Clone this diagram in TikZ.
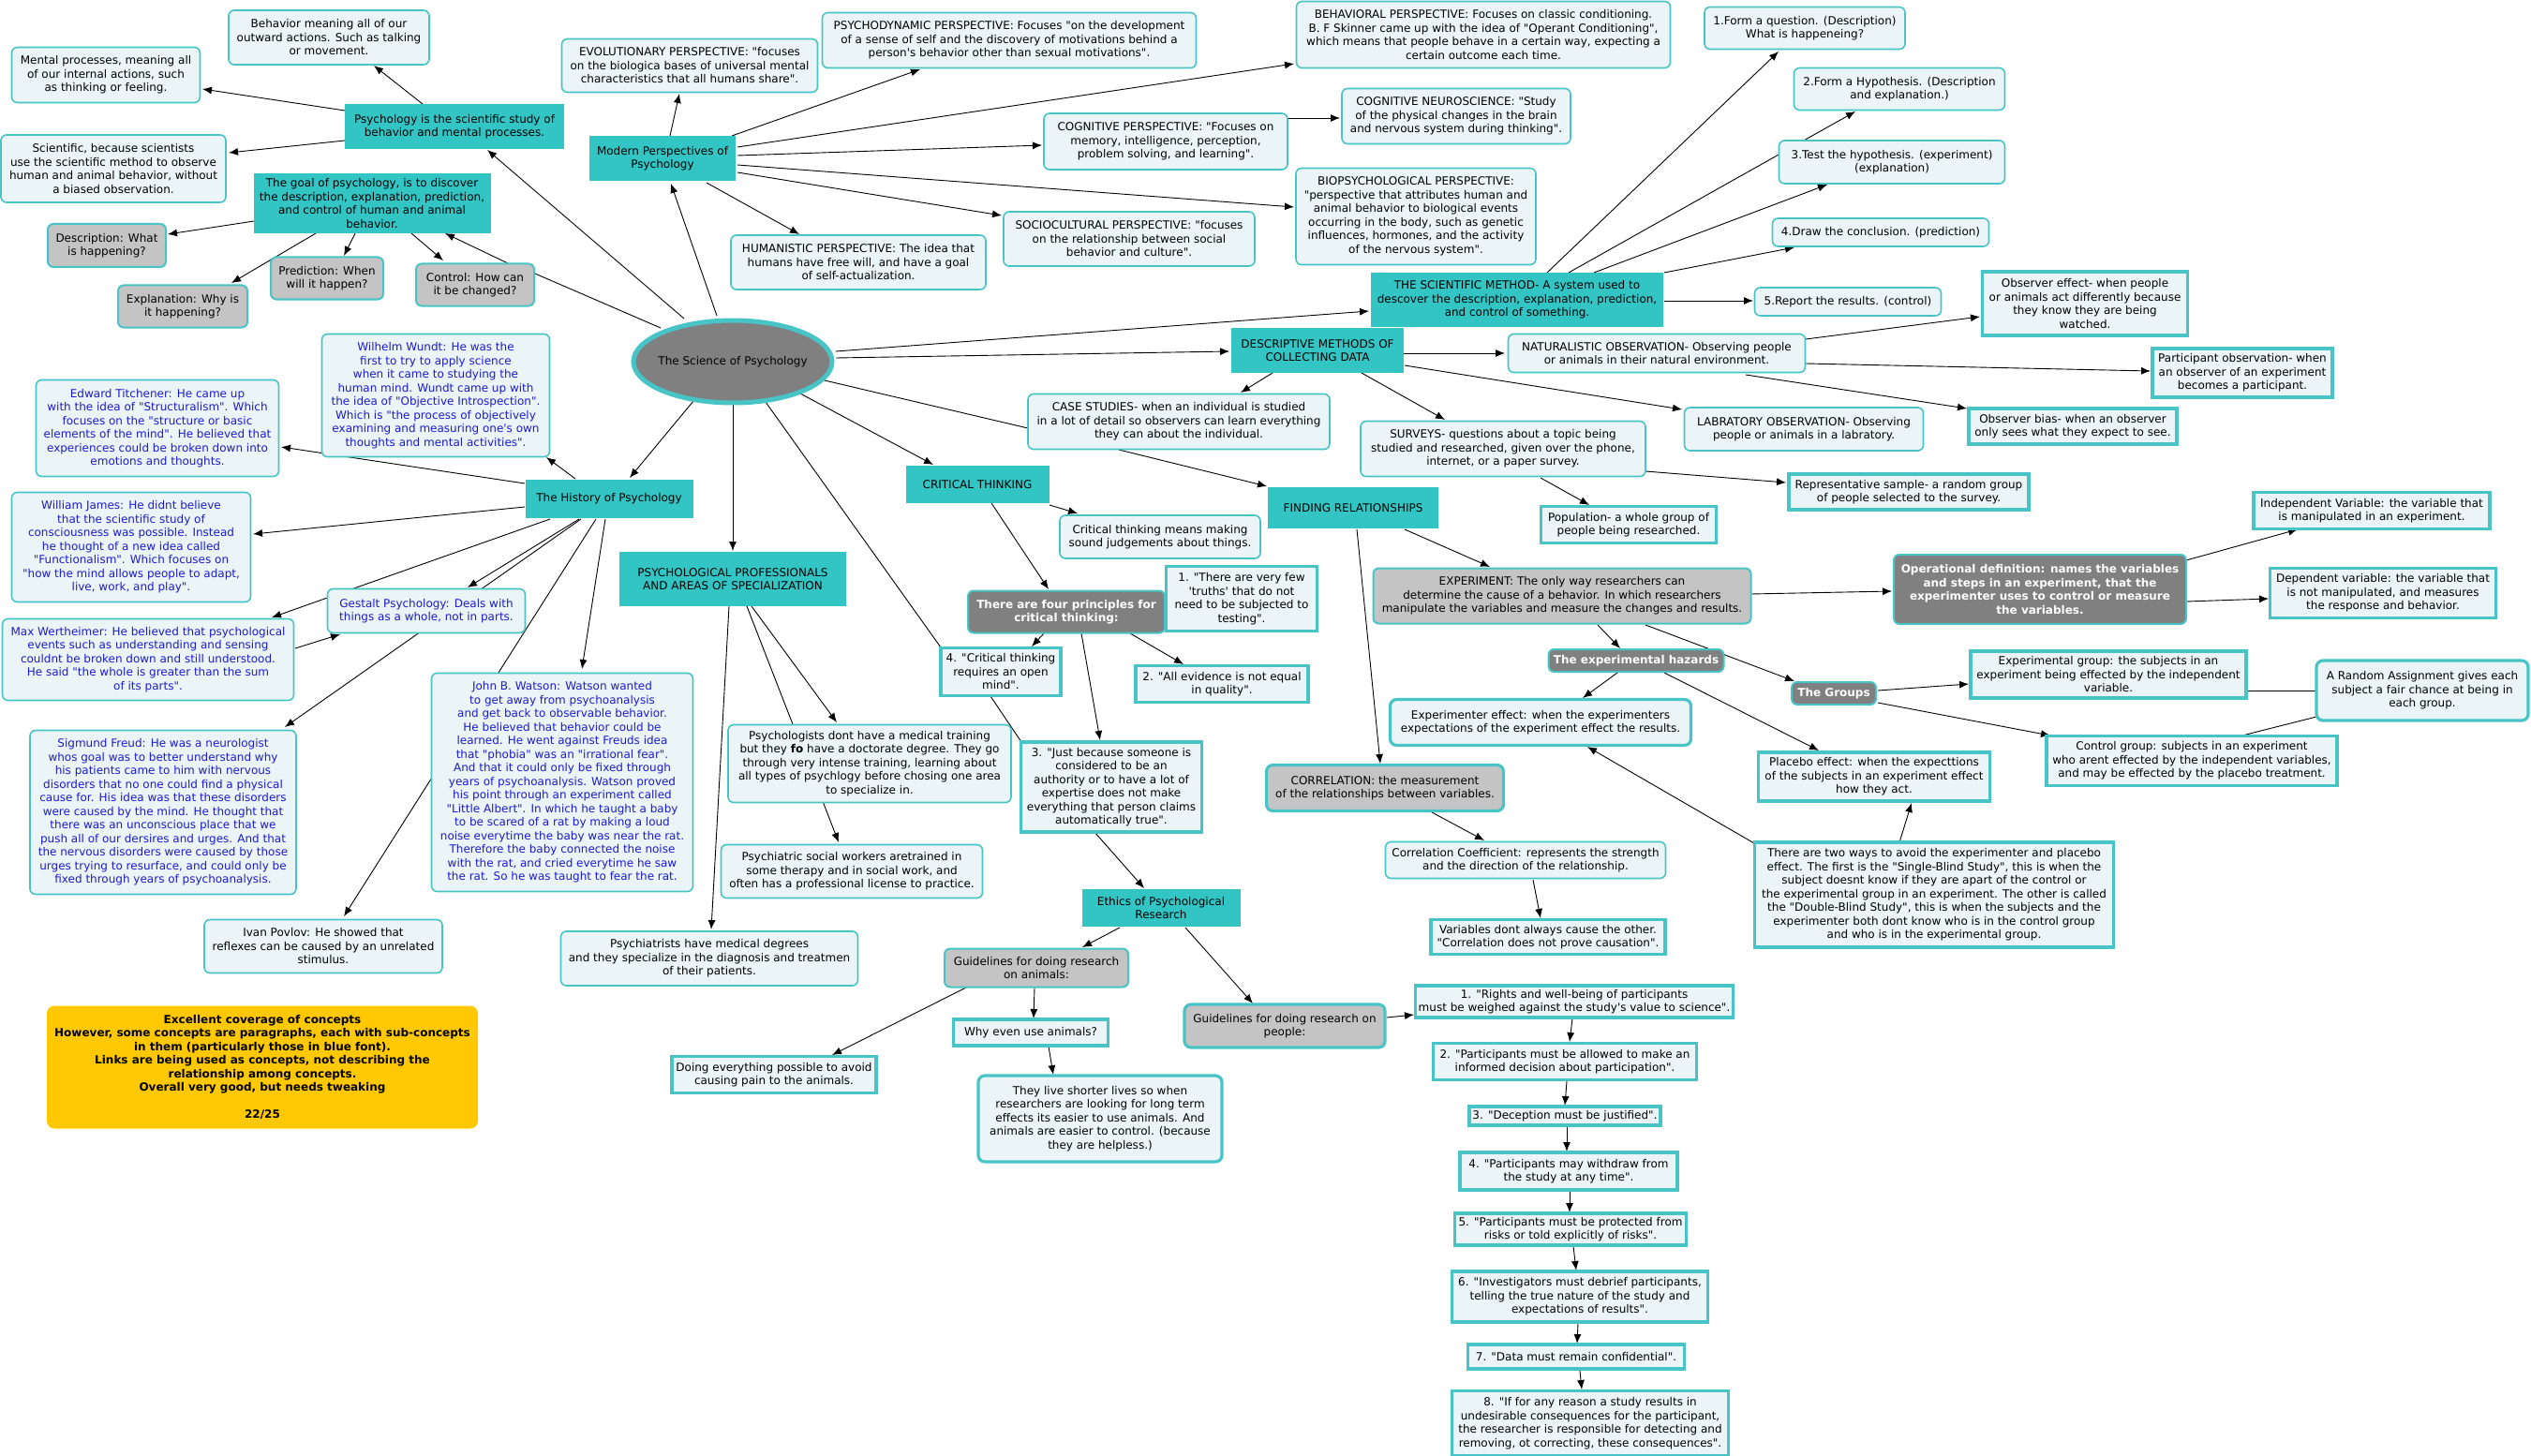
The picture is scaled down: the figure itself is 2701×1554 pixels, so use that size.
\documentclass[tikz,border=0pt]{standalone}
\usepackage{fontspec}
\newfontfamily\vf{DejaVu Sans}
\usetikzlibrary{shapes.geometric,arrows.meta,calc,backgrounds}
\definecolor{tealc}{RGB}{51,196,196}
\definecolor{tealb}{RGB}{72,196,198}
\definecolor{boxf}{RGB}{235,244,246}
\definecolor{grayf}{RGB}{196,196,196}
\definecolor{darkf}{RGB}{128,128,128}
\definecolor{bluet}{RGB}{28,28,205}
\definecolor{yell}{RGB}{255,200,0}
\newcommand\bx[6]{\node[#1,minimum width=#4pt,minimum height=#5pt] (#2) at (#3) {#6};}
\newcommand\ed[5]{\draw[#1] ($(#2)+(#3)$) -- ($(#4)+(#5)$);}
\tikzset{
 base/.style={font=\vf\fontsize{12}{14.5}\selectfont, align=center, inner sep=2pt, text=black},
 rb/.style={base, rounded corners=6pt, draw=tealb, line width=1.6pt, fill=boxf},
 sb/.style={base, draw=tealb, line width=3.2pt, fill=boxf},
 tb/.style={base, rounded corners=7pt, draw=tealb, line width=3.2pt, fill=boxf},
 tc/.style={base, fill=tealc},
 gr/.style={base, rounded corners=6pt, draw=tealb, line width=2pt, fill=grayf},
 gt/.style={base, rounded corners=7pt, draw=tealb, line width=3.2pt, fill=grayf},
 dk/.style={base, rounded corners=6pt, draw=tealb, line width=2pt, fill=darkf, text=white, font=\vf\bfseries\fontsize{12}{14.5}\selectfont},
 bl/.style={text=bluet},
 arr/.style={-{Latex[length=10pt,width=8pt]}, line width=0.9pt},
 ln/.style={line width=0.9pt},
}
\begin{document}
\begin{tikzpicture}[x=1pt,y=-1pt]
\useasboundingbox (0,0) rectangle (2701,1554);
% ---------- left top
\bx{rb}{beh}{351,40}{214}{58}{Behavior meaning all of our\\outward actions. Such as talking\\or movement.}
\bx{rb}{mental}{113,80}{201}{59}{Mental processes, meaning all\\of our internal actions, such\\as thinking or feeling.}
\bx{tc}{psy}{485,135}{234}{48}{Psychology is the scientific study of\\behavior and mental processes.}
\bx{rb}{sci}{121,180}{240}{72}{Scientific, because scientists\\use the scientific method to observe\\human and animal behavior, without\\a biased observation.}
\bx{tc}{goal}{397,217}{253}{64}{The goal of psychology, is to discover\\the description, explanation, prediction,\\and control of human and animal\\behavior.}
\bx{gr}{desc}{114,262}{126}{46}{Description: What\\is happening?}
\bx{gr}{pred}{349,297}{120}{45}{Prediction: When\\will it happen?}
\bx{gr}{ctl}{507,304}{126}{45}{Control: How can\\it be changed?}
\bx{gr}{expl}{195,327}{138}{45}{Explanation: Why is\\it happening?}
\node[base, ellipse, draw=tealb, line width=5pt, fill=darkf, minimum width=212pt, minimum height=88pt, inner sep=0pt, label={[base]center:The Science of Psychology}] (root) at (782,386) {};
% ---------- history
\bx{rb,bl}{wundt}{465,422}{243}{131}{Wilhelm Wundt: He was the\\first to try to apply science\\when it came to studying the\\human mind. Wundt came up with\\the idea of "Objective Introspection".\\Which is "the process of objectively\\examining and measuring one's own\\thoughts and mental activities".}
\bx{rb,bl}{titch}{168,457}{259}{103}{Edward Titchener: He came up\\with the idea of "Structuralism". Which\\focuses on the "structure or basic\\elements of the mind". He believed that\\experiences could be broken down into\\emotions and thoughts.}
\bx{tc}{hist}{650,532}{179}{41}{The History of Psychology}
\bx{rb,bl}{james}{140,584}{255}{117}{William James: He didnt believe\\that the scientific study of\\consciousness was possible. Instead\\he thought of a new idea called\\"Functionalism". Which focuses on\\"how the mind allows people to adapt,\\live, work, and play".}
\bx{rb,bl}{gestalt}{455,652}{211}{47}{Gestalt Psychology: Deals with\\things as a whole, not in parts.}
\bx{rb,bl}{max}{158,704}{311}{87}{Max Wertheimer: He believed that psychological\\events such as understanding and sensing\\couldnt be broken down and still understood.\\He said "the whole is greater than the sum\\of its parts".}
\bx{rb,bl}{freud}{174,867}{284}{175}{Sigmund Freud: He was a neurologist\\whos goal was to better understand why\\his patients came to him with nervous\\disorders that no one could find a physical\\cause for. His idea was that these disorders\\were caused by the mind. He thought that\\there was an unconscious place that we\\push all of our dersires and urges. And that\\the nervous disorders were caused by those\\urges trying to resurface, and could only be\\fixed through years of psychoanalysis.}
\bx{rb,bl}{watson}{600,835}{279}{233}{John B. Watson: Watson wanted\\to get away from psychoanalysis\\and get back to observable behavior.\\He believed that behavior could be\\learned. He went against Freuds idea\\that "phobia" was an "irrational fear".\\And that it could only be fixed through\\years of psychoanalysis. Watson proved\\his point through an experiment called\\"Little Albert". In which he taught a baby\\to be scared of a rat by making a loud\\noise everytime the baby was near the rat.\\Therefore the baby connected the noise\\with the rat, and cried everytime he saw\\the rat. So he was taught to fear the rat.}
\bx{rb}{ivan}{345,1010}{254}{57}{Ivan Povlov: He showed that\\reflexes can be caused by an unrelated\\stimulus.}
\node[base, fill=yell, rounded corners=8pt, minimum width=460pt, minimum height=131pt, font=\vf\bfseries\fontsize{12}{14.5}\selectfont] (note) at (280,1139) {Excellent coverage of concepts\\However, some concepts are paragraphs, each with sub-concepts\\in them (particularly those in blue font).\\Links are being used as concepts, not describing the\\relationship among concepts.\\Overall very good, but needs tweaking\\[14.5pt]22/25};
% ---------- professionals
\bx{tc}{prof}{782,618}{242}{58}{PSYCHOLOGICAL PROFESSIONALS\\AND AREAS OF SPECIALIZATION}
\bx{rb}{psychologists}{928,815}{302}{83}{Psychologists dont have a medical training\\but they {\bfseries fo} have a doctorate degree. They go\\through very intense training, learning about\\all types of psychlogy before chosing one area\\to specialize in.}
\bx{rb}{social}{909,930}{279}{57}{Psychiatric social workers aretrained in\\some therapy and in social work, and\\often has a professional license to practice.}
\bx{rb}{psychiatrists}{757,1023}{317}{58}{Psychiatrists have medical degrees\\and they specialize in the diagnosis and treatmen\\of their patients.}
% ---------- modern perspectives
\bx{rb}{evo}{736,70}{273}{57}{EVOLUTIONARY PERSPECTIVE: "focuses\\on the biologica bases of universal mental\\characteristics that all humans share".}
\bx{rb}{psychodyn}{1077,43}{399}{59}{PSYCHODYNAMIC PERSPECTIVE: Focuses "on the development\\of a sense of self and the discovery of motivations behind a\\person's behavior other than sexual motivations".}
\bx{tc}{modern}{707,169}{156}{48}{Modern Perspectives of\\Psychology}
\bx{rb}{cog}{1244,151}{260}{60}{COGNITIVE PERSPECTIVE: "Focuses on\\memory, intelligence, perception,\\problem solving, and learning".}
\bx{rb}{hum}{916,280}{272}{58}{HUMANISTIC PERSPECTIVE: The idea that\\humans have free will, and have a goal\\of self-actualization.}
\bx{rb}{socio}{1205,255}{268}{58}{SOCIOCULTURAL PERSPECTIVE: "focuses\\on the relationship between social\\behavior and culture".}
\bx{rb}{behav}{1583,37}{399}{71}{BEHAVIORAL PERSPECTIVE: Focuses on classic conditioning.\\B. F Skinner came up with the idea of "Operant Conditioning",\\which means that people behave in a certain way, expecting a\\certain outcome each time.}
\bx{rb}{cogneuro}{1554,124}{244}{59}{COGNITIVE NEUROSCIENCE: "Study\\of the physical changes in the brain\\and nervous system during thinking".}
\bx{rb}{bio}{1511,231}{256}{103}{BIOPSYCHOLOGICAL PERSPECTIVE:\\"perspective that attributes human and\\animal behavior to biological events\\occurring in the body, such as genetic\\influences, hormones, and the activity\\of the nervous system".}
% ---------- scientific method
\bx{rb}{s1}{1926,30}{214}{45}{1.Form a question. (Description)\\What is happeneing?}
\bx{rb}{s2}{2027,95}{225}{45}{2.Form a Hypothesis. (Description\\and explanation.)}
\bx{rb}{s3}{2019,173}{241}{46}{3.Test the hypothesis. (experiment)\\(explanation)}
\bx{rb}{s4}{2007,248}{231}{30}{4.Draw the conclusion. (prediction)}
\bx{tc}{sm}{1619,320}{312}{58}{THE SCIENTIFIC METHOD- A system used to\\descover the description, explanation, prediction,\\and control of something.}
\bx{rb}{s5}{1972,322}{199}{30}{5.Report the results. (control)}
% ---------- descriptive methods
\bx{tc}{descm}{1406,374}{184}{48}{DESCRIPTIVE METHODS OF\\COLLECTING DATA}
\bx{rb}{case}{1258,450}{322}{59}{CASE STUDIES- when an individual is studied\\in a lot of detail so observers can learn everything\\they can about the individual.}
\bx{rb}{nat}{1768,377}{317}{41}{NATURALISTIC OBSERVATION- Observing people\\or animals in their natural environment.}
\bx{rb}{lab}{1925,458}{255}{46}{LABRATORY OBSERVATION- Observing\\people or animals in a labratory.}
\bx{rb}{surv}{1604,479}{304}{59}{SURVEYS- questions about a topic being\\studied and researched, given over the phone,\\internet, or a paper survey.}
\bx{sb}{obseff}{2225,324}{219}{68}{Observer effect- when people\\or animals act differently because\\they know they are being\\watched.}
\bx{sb}{partobs}{2393,398}{192}{52}{Participant observation- when\\an observer of an experiment\\becomes a participant.}
\bx{sb}{obsbias}{2212,455}{222}{38}{Observer bias- when an observer\\only sees what they expect to see.}
\bx{sb}{rep}{2037,525}{256}{38}{Representative sample- a random group\\of people selected to the survey.}
\bx{sb}{pop}{1738,560}{187}{39}{Population- a whole group of\\people being researched.}
% ---------- finding relationships
\bx{tc}{find}{1444,542}{182}{44}{FINDING RELATIONSHIPS}
\bx{gr}{exp}{1667,636}{403}{59}{EXPERIMENT: The only way researchers can\\determine the cause of a behavior. In which researchers\\manipulate the variables and measure the changes and results.}
\bx{dk}{opdef}{2177,629}{312}{74}{Operational definition: names the variables\\and steps in an experiment, that the\\experimenter uses to control or measure\\the variables.}
\bx{sb}{indep}{2531,545}{252}{39}{Independent Variable: the variable that\\is manipulated in an experiment.}
\bx{sb}{dep}{2543,633}{241}{53}{Dependent variable: the variable that\\is not manipulated, and measures\\the response and behavior.}
\bx{dk}{haz}{1746,705}{187}{24}{The experimental hazards}
\bx{dk}{groups}{1957,740}{90}{24}{The Groups}
\bx{sb}{expgrp}{2250,720}{294}{50}{Experimental group: the subjects in an\\experiment being effected by the independent\\variable.}
\bx{tb}{rand}{2585,737}{226}{64}{A Random Assignment gives each\\subject a fair chance at being in\\each group.}
\bx{sb}{ctlgrp}{2339,812}{310}{53}{Control group: subjects in an experiment\\who arent effected by the independent variables,\\and may be effected by the placebo treatment.}
\bx{sb}{placebo}{2000,829}{247}{52}{Placebo effect: when the expecttions\\of the subjects in an experiment effect\\how they act.}
\bx{tb}{expeff}{1644,771}{321}{49}{Experimenter effect: when the experimenters\\expectations of the experiment effect the results.}
\bx{gt}{corr}{1478,841}{253}{49}{CORRELATION: the measurement\\of the relationships between variables.}
\bx{rb}{coef}{1628,918}{299}{39}{Correlation Coefficient: represents the strength\\and the direction of the relationship.}
\bx{sb}{vars}{1652,1000}{250}{37}{Variables dont always cause the other.\\"Correlation does not prove causation".}
\bx{sb}{twoways}{2064,955}{383}{112}{There are two ways to avoid the experimenter and placebo\\effect. The first is the "Single-Blind Study", this is when the\\subject doesnt know if they are apart of the control or\\the experimental group in an experiment. The other is called\\the "Double-Blind Study", this is when the subjects and the\\experimenter both dont know who is in the control group\\and who is in the experimental group.}
% ---------- critical thinking
\bx{tc}{crit}{1043,517}{153}{40}{CRITICAL THINKING}
\bx{rb}{ctmeans}{1238,573}{214}{46}{Critical thinking means making\\sound judgements about things.}
\bx{dk}{four}{1138,653}{210}{45}{There are four principles for\\critical thinking:}
\bx{sb}{p1}{1325,639}{161}{69}{1. "There are very few\\'truths' that do not\\need to be subjected to\\testing".}
\bx{sb}{p4}{1068,717}{128}{51}{4. "Critical thinking\\requires an open\\mind".}
\bx{sb}{p2}{1304,730}{184}{39}{2. "All evidence is not equal\\in quality".}
\bx{sb}{p3}{1186,840}{193}{96}{3. "Just because someone is\\considered to be an\\authority or to have a lot of\\expertise does not make\\everything that person claims\\automatically true".}
% ---------- ethics
\bx{tc}{ethics}{1239,969}{169}{40}{Ethics of Psychological\\Research}
\bx{gr}{ganim}{1106,1033}{196}{41}{Guidelines for doing research\\on animals:}
\bx{sb}{doing}{826,1147}{218}{39}{Doing everything possible to avoid\\causing pain to the animals.}
\bx{sb}{why}{1100,1102}{165}{28}{Why even use animals?}
\bx{tb}{live}{1174,1194}{260}{92}{They live shorter lives so when\\researchers are looking for long term\\effects its easier to use animals. And\\animals are easier to control. (because\\they are helpless.)}
\bx{gt}{gpeople}{1371,1095}{214}{46}{Guidelines for doing research on\\people:}
\bx{sb}{e1}{1680,1069}{339}{34}{1. "Rights and well-being of participants\\must be weighed against the study's value to science".}
\bx{sb}{e2}{1670,1133}{281}{39}{2. "Participants must be allowed to make an\\informed decision about participation".}
\bx{sb}{e3}{1670,1191}{204}{20}{3. "Deception must be justified".}
\bx{sb}{e4}{1674,1250}{232}{40}{4. "Participants may withdraw from\\the study at any time".}
\bx{sb}{e5}{1676,1312}{247}{34}{5. "Participants must be protected from\\risks or told explicitly of risks".}
\bx{sb}{e6}{1686,1384}{273}{54}{6. "Investigators must debrief participants,\\telling the true nature of the study and\\expectations of results".}
\bx{sb}{e7}{1682,1448}{231}{26}{7. "Data must remain confidential".}
\bx{sb}{e8}{1697,1519}{295}{69}{8. "If for any reason a study results in\\undesirable consequences for the participant,\\the researcher is responsible for detecting and\\removing, ot correcting, these consequences".}
% ================= connectors
\begin{scope}[on background layer]
\fill[white] (0,0) rectangle (2701,1554);
\ed{arr}{root}{-52,-46}{psy}{35,25}
\ed{ln}{root}{-77,-36}{ctl}{64,-12}
\ed{arr}{ctl}{35,-23}{goal}{78,32}
\ed{arr}{goal}{-126,19}{desc}{65,-12}
\ed{arr}{goal}{-60,32}{expl}{52,-25}
\ed{arr}{goal}{-18,32}{pred}{18,-24}
\ed{arr}{goal}{42,32}{ctl}{-34,-26}
\ed{arr}{psy}{-34,-24}{beh}{48,30}
\ed{arr}{psy}{-117,-17}{mental}{103,15}
\ed{arr}{psy}{-117,15}{sci}{123,-17}
\ed{arr}{root}{-17,-49}{modern}{9,27}
\ed{arr}{modern}{8,-24}{evo}{-11,30}
\ed{arr}{modern}{74,-24}{psychodyn}{-95,31}
\ed{arr}{modern}{80,-12}{behav}{-202,31}
\ed{arr}{modern}{80,-3}{cog}{-132,4}
\ed{arr}{modern}{80,7}{bio}{-130,-10}
\ed{arr}{modern}{80,15}{socio}{-136,-25}
\ed{arr}{modern}{47,26}{hum}{-63,-30}
\ed{arr}{cog}{130,-25}{cogneuro}{-124,2}
\ed{arr}{root}{-42,42}{hist}{22,-22}
\ed{arr}{root}{0,45}{prof}{0,-30}
\ed{ln}{root}{35,43}{p4}{-64,-26}
\ed{ln}{p4}{-11,26}{p3}{-96,-48}
\ed{arr}{p3}{-18,48}{ethics}{-18,-21}
\ed{arr}{root}{72,34}{crit}{-47,-21}
\ed{ln}{root}{98,20}{case}{-161,7}
\ed{arr}{case}{-64,30}{find}{-92,-23}
\ed{arr}{root}{110,-4}{descm}{-94,1}
\ed{arr}{root}{110,-11}{sm}{-158,12}
\ed{arr}{hist}{-36,-21}{wundt}{118,66}
\ed{arr}{hist}{-90,-16}{titch}{132,20}
\ed{arr}{hist}{-90,9}{james}{130,-14}
\ed{arr}{hist}{-63,22}{max}{132,-45}
\ed{arr}{hist}{-32,22}{gestalt}{44,-25}
\ed{arr}{hist}{-30,22}{freud}{130,-91}
\ed{arr}{hist}{-14,22}{ivan}{22,-32}
\ed{arr}{hist}{-4,22}{watson}{21,-121}
\ed{arr}{max}{157,-12}{gestalt}{-92,25}
\ed{arr}{prof}{-4,29}{psychiatrists}{2,-31}
\ed{arr}{prof}{20,29}{psychologists}{-35,-44}
\ed{arr}{prof}{15,29}{social}{-14,-31}
\ed{arr}{crit}{77,22}{ctmeans}{-88,-25}
\ed{arr}{crit}{15,20}{four}{-19,-24}
\ed{arr}{four}{-24,23}{p4}{33,-27}
\ed{arr}{four}{68,23}{p2}{-41,-21}
\ed{arr}{four}{16,23}{p3}{-12,-50}
\ed{arr}{descm}{-48,24}{case}{66,-31}
\ed{arr}{descm}{92,3}{nat}{-162,0}
\ed{arr}{descm}{93,16}{lab}{-130,-21}
\ed{arr}{descm}{47,24}{surv}{-62,-31}
\ed{arr}{nat}{159,-15}{obseff}{-112,14}
\ed{arr}{nat}{159,11}{partobs}{-98,-2}
\ed{arr}{nat}{95,23}{obsbias}{-113,-19}
\ed{arr}{surv}{152,24}{rep}{-131,-10}
\ed{arr}{surv}{40,31}{pop}{-42,-21}
\ed{arr}{find}{55,23}{exp}{-77,-31}
\ed{arr}{find}{4,23}{corr}{-5,-26}
\ed{arr}{exp}{201,-2}{opdef}{-158,2}
\ed{arr}{opdef}{156,-31}{indep}{-79,20}
\ed{arr}{opdef}{156,13}{dep}{-122,6}
\ed{arr}{exp}{38,31}{haz}{-17,-13}
\ed{arr}{exp}{89,31}{groups}{-42,-13}
\ed{arr}{haz}{-20,13}{expeff}{45,-26}
\ed{arr}{haz}{30,13}{placebo}{-59,-28}
\ed{arr}{groups}{47,-3}{expgrp}{-149,10}
\ed{arr}{groups}{47,10}{ctlgrp}{-151,-27}
\ed{ln}{expgrp}{147,17}{rand}{-113,0}
\ed{ln}{rand}{-113,28}{ctlgrp}{50,-26}
\ed{arr}{twoways}{-37,-56}{placebo}{40,28}
\ed{arr}{twoways}{-192,-55}{expeff}{50,26}
\ed{arr}{corr}{50,26}{coef}{-44,-21}
\ed{arr}{coef}{8,21}{vars}{-8,-20}
\ed{arr}{sm}{32,-29}{s1}{-28,25}
\ed{arr}{sm}{55,-29}{s2}{-47,24}
\ed{arr}{sm}{82,-29}{s3}{-69,24}
\ed{arr}{sm}{157,-29}{s4}{-92,16}
\ed{arr}{sm}{157,1}{s5}{-101,-1}
\ed{arr}{ethics}{-44,21}{ganim}{49,-22}
\ed{arr}{ethics}{26,21}{gpeople}{-34,-24}
\ed{arr}{ganim}{-73,20}{doing}{62,-21}
\ed{arr}{ganim}{-2,21}{why}{3,-15}
\ed{arr}{why}{19,15}{live}{-50,-47}
\ed{arr}{gpeople}{109,-9}{e1}{-171,14}
\ed{arr}{e1}{-2,18}{e2}{5,-21}
\ed{arr}{e2}{2,21}{e3}{0,-11}
\ed{arr}{e3}{2,11}{e4}{-2,-21}
\ed{arr}{e4}{1,21}{e5}{-1,-18}
\ed{arr}{e5}{3,18}{e6}{-4,-28}
\ed{arr}{e6}{-2,28}{e7}{1,-14}
\ed{arr}{e7}{4,15}{e8}{-9,-36}
\end{scope}
\end{tikzpicture}
\end{document}
